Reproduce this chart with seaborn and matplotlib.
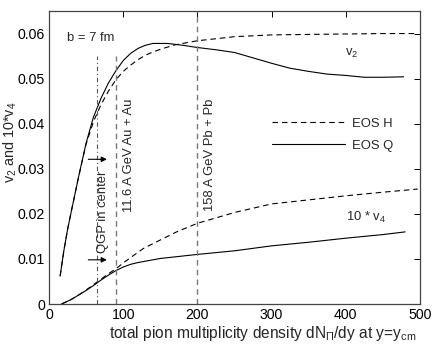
import numpy as np
import pandas as pd
import matplotlib
matplotlib.use("Agg")
import matplotlib.pyplot as plt
import seaborn as sns

# ---------------- data ----------------
x_v2_q = [15, 20, 25, 30, 40, 50, 60, 70, 80, 90, 100, 110, 120, 130, 140, 150,
          160, 170, 180, 200, 225, 250, 275, 300, 325, 350, 375, 400, 425, 450, 478]
v2_q = [0.0062, 0.0118, 0.0165, 0.0205, 0.0283, 0.0357, 0.0415, 0.0456, 0.0490,
        0.0517, 0.0540, 0.0556, 0.0567, 0.0574, 0.0578, 0.0578, 0.0578, 0.0576,
        0.0574, 0.0569, 0.0564, 0.0558, 0.0546, 0.0534, 0.0523, 0.0516, 0.0510,
        0.0507, 0.0503, 0.0503, 0.0504]

x_v2_h = [15, 20, 25, 30, 40, 50, 60, 70, 80, 90, 100, 110, 120, 130, 140, 150,
          170, 200, 250, 300, 350, 400, 450, 497]
v2_h = [0.0062, 0.0118, 0.0165, 0.0205, 0.0283, 0.0355, 0.0405, 0.0442, 0.0472,
        0.0497, 0.0516, 0.0530, 0.0542, 0.0552, 0.0559, 0.0565, 0.0575, 0.0584,
        0.0593, 0.0597, 0.0598, 0.0599, 0.0600, 0.0600]

x_v4_q = [17, 30, 40, 50, 60, 70, 80, 90, 100, 110, 120, 150, 200, 250, 300, 350,
          400, 450, 480]
v4_q = [0.0000, 0.0010, 0.0020, 0.0030, 0.0041, 0.0053, 0.0064, 0.0074, 0.0082,
        0.0088, 0.0092, 0.0101, 0.0110, 0.0118, 0.0129, 0.0137, 0.0146, 0.0154,
        0.0160]

x_v4_h = [17, 30, 40, 50, 60, 70, 80, 90, 100, 110, 127, 150, 172, 200, 250, 300,
          350, 400, 450, 497]
v4_h = [0.0000, 0.0010, 0.0020, 0.0031, 0.0043, 0.0055, 0.0067, 0.0078, 0.0091,
        0.0103, 0.0123, 0.0142, 0.0160, 0.0179, 0.0203, 0.0222, 0.0231, 0.0240,
        0.0248, 0.0255]

# markers: (x position, top of line)
qgp_x, qgp_top = 65, 0.055
au_x, au_top = 90, 0.055
pb_x, pb_top = 200, 0.065
arrow_y = [0.0321, 0.0098]

x_ticks = [0, 100, 200, 300, 400, 500]
y_ticks = [0, 0.01, 0.02, 0.03, 0.04, 0.05, 0.06]
y_tick_labels = ["0", "0.01", "0.02", "0.03", "0.04", "0.05", "0.06"]

# ---------------- style ----------------
sns.set_theme(style="white")
plt.rcParams["font.family"] = ["Liberation Sans", "DejaVu Sans"]
plt.rcParams["mathtext.fontset"] = "custom"
plt.rcParams["mathtext.rm"] = "Liberation Sans"
plt.rcParams["mathtext.it"] = "Liberation Sans"
plt.rcParams["mathtext.bf"] = "Liberation Sans:bold"
FS = 9.4
FS_TICK = 10.2
FS_XLAB = 11.2
FS_YLAB = 10.4

fig = plt.figure(figsize=(4.36, 3.44), dpi=100)
ax = fig.add_axes([49 / 436, 1 - 304 / 344, 371 / 436, 293 / 344])

lw = 0.8
dash = (0, (5, 3.5))

df_h2 = pd.DataFrame({"x": x_v2_h, "y": v2_h})
df_q2 = pd.DataFrame({"x": x_v2_q, "y": v2_q})
df_h4 = pd.DataFrame({"x": x_v4_h, "y": v4_h})
df_q4 = pd.DataFrame({"x": x_v4_q, "y": v4_q})

sns.lineplot(data=df_h2, x="x", y="y", ax=ax, color="black", lw=lw,
             linestyle=dash, label="EOS H", sort=False)
sns.lineplot(data=df_q2, x="x", y="y", ax=ax, color="black", lw=lw,
             label="EOS Q", sort=False)
sns.lineplot(data=df_h4, x="x", y="y", ax=ax, color="black", lw=lw,
             linestyle=dash, sort=False)
sns.lineplot(data=df_q4, x="x", y="y", ax=ax, color="black", lw=lw, sort=False)

# vertical marker lines
ax.vlines(qgp_x, 0, qgp_top, color="#555555", lw=0.8,
          linestyles=[(0, (4, 2.5, 1, 2.5))])
ax.vlines(au_x, 0, au_top, color="#777777", lw=1.0, linestyles=[(0, (4, 3))])
ax.vlines(pb_x, 0, pb_top, color="#777777", lw=1.0, linestyles=[(0, (4, 3))])

for ay in arrow_y:
    ax.annotate("", xy=(78, ay), xytext=(53, ay),
                arrowprops=dict(arrowstyle="-|>", color="black", lw=0.8,
                                mutation_scale=8, shrinkA=0, shrinkB=0))

# annotations
ax.text(73, 0.0205, "QGP in center", rotation=90, ha="center", va="center",
        fontsize=FS)
ax.text(108, 0.033, "11.6 A GeV Au + Au", rotation=90, ha="center",
        va="center", fontsize=FS)
ax.text(217, 0.033, "158 A GeV Pb + Pb", rotation=90, ha="center",
        va="center", fontsize=FS)
ax.text(24, 0.059, "b = 7 fm", ha="left", va="center", fontsize=FS)
ax.text(408, 0.0555, r"v$_2$", ha="center", va="center", fontsize=FS)
ax.text(427, 0.0193, r"10 * v$_4$", ha="center", va="center", fontsize=FS)

# axes
ax.set_xlim(0, 500)
ax.set_ylim(0, 0.065)
ax.set_xticks(x_ticks)
ax.set_xticklabels([str(t) for t in x_ticks])
ax.set_yticks(y_ticks)
ax.set_yticklabels(y_tick_labels)
ax.tick_params(direction="in", length=4, width=0.7, top=True, right=True,
               labelsize=FS_TICK, pad=3, colors="black")
for s in ax.spines.values():
    s.set_visible(True)
    s.set_color("#444444")
    s.set_linewidth(0.9)

ax.set_xlabel(r"total pion multiplicity density dN$_\Pi$/dy at y=y$_{\rm cm}$",
              fontsize=FS_XLAB)
ax.xaxis.set_label_coords(0.577, -0.067)
ax.set_ylabel(r"v$_2$ and 10*v$_4$", fontsize=FS_YLAB)
ax.yaxis.set_label_coords(-0.082, 0.553)

leg = ax.legend(frameon=False, loc="center left",
                bbox_to_anchor=((272 - 49) / 371, (304 - 134.5) / 293),
                handlelength=5.6, handletextpad=0.55, labelspacing=0.75,
                borderpad=0, borderaxespad=0, fontsize=FS)

fig.savefig("out.png", dpi=100)
